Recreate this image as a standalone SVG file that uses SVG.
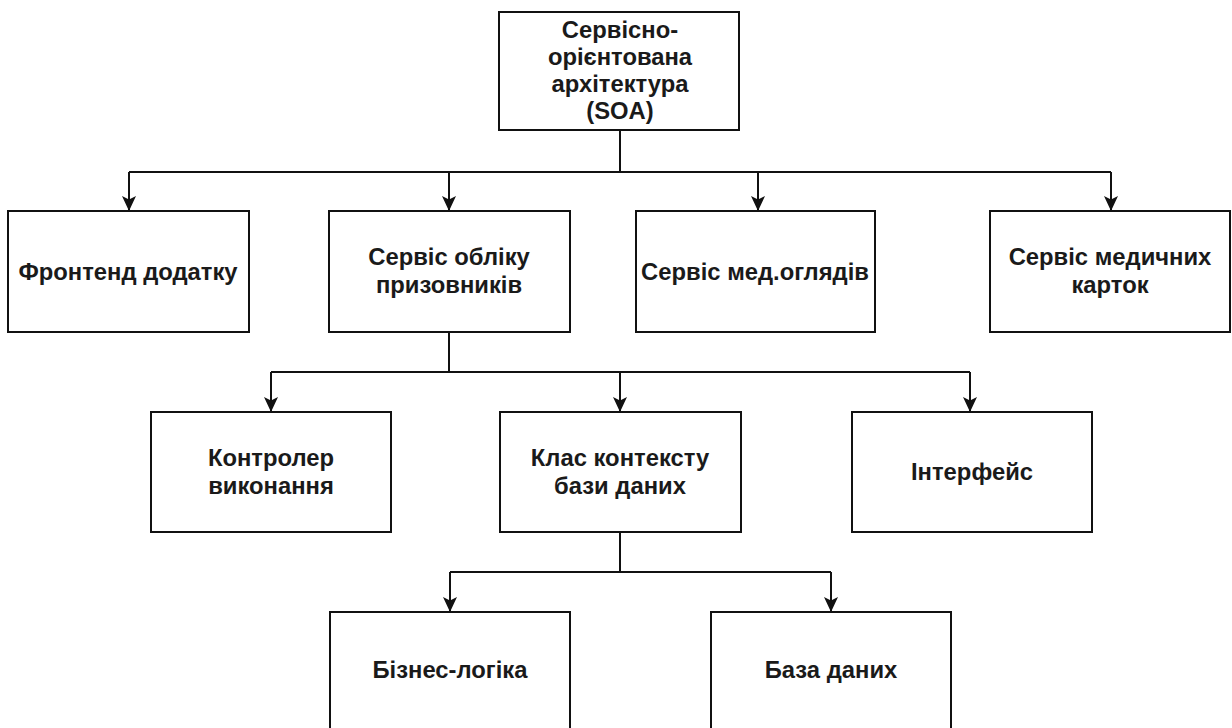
<svg xmlns="http://www.w3.org/2000/svg" width="1232" height="728" viewBox="0 0 1232 728">
  <style>
    .box { fill: #ffffff; stroke: #111111; stroke-width: 2; }
    .lbl { font-family: "Liberation Sans", Arial, sans-serif; font-size: 23.8px; font-weight: bold; fill: #1a1a1a; text-anchor: middle; }
    .wire { fill: none; stroke: #111111; stroke-width: 2; }
  </style>
  <defs>
    <marker id="arrow" markerUnits="userSpaceOnUse" markerWidth="16" markerHeight="16" viewBox="0 0 16 16" refX="15" refY="8" orient="auto">
      <path d="M0,1 L15,8 L0,15 L3.5,8 Z" fill="#111111"/>
    </marker>
  </defs>
  <rect width="1232" height="728" fill="#ffffff"/>

  <!-- connectors -->
  <g id="connectors">
    <path class="wire" d="M620,130 V172"/>
    <path class="wire" d="M129,172 H1111"/>
    <path class="wire" d="M129,172 V211" marker-end="url(#arrow)"/>
    <path class="wire" d="M449,172 V211" marker-end="url(#arrow)"/>
    <path class="wire" d="M758,172 V211" marker-end="url(#arrow)"/>
    <path class="wire" d="M1111,172 V211" marker-end="url(#arrow)"/>

    <path class="wire" d="M449,332 V372"/>
    <path class="wire" d="M271,372 H970"/>
    <path class="wire" d="M271,372 V412" marker-end="url(#arrow)"/>
    <path class="wire" d="M620,372 V412" marker-end="url(#arrow)"/>
    <path class="wire" d="M970,372 V412" marker-end="url(#arrow)"/>

    <path class="wire" d="M620,532 V572"/>
    <path class="wire" d="M450,572 H831"/>
    <path class="wire" d="M450,572 V612" marker-end="url(#arrow)"/>
    <path class="wire" d="M831,572 V612" marker-end="url(#arrow)"/>
  </g>

  <!-- root -->
  <g id="soa">
    <rect class="box" x="499" y="12" width="240" height="118"/>
    <text class="lbl" x="620" y="38">Сервісно-</text>
    <text class="lbl" x="620" y="65">орієнтована</text>
    <text class="lbl" x="620" y="92">архітектура</text>
    <text class="lbl" x="620" y="119">(SOA)</text>
  </g>

  <!-- services -->
  <g id="frontend">
    <rect class="box" x="8" y="211" width="241" height="121"/>
    <text class="lbl" x="128" y="280">Фронтенд додатку</text>
  </g>
  <g id="conscripts">
    <rect class="box" x="329" y="211" width="241" height="121"/>
    <text class="lbl" x="449" y="265">Сервіс обліку</text>
    <text class="lbl" x="449" y="293">призовників</text>
  </g>
  <g id="checkups">
    <rect class="box" x="636" y="211" width="239" height="121"/>
    <text class="lbl" x="755" y="280">Сервіс мед.оглядів</text>
  </g>
  <g id="records">
    <rect class="box" x="990" y="211" width="240" height="121"/>
    <text class="lbl" x="1110" y="265">Сервіс медичних</text>
    <text class="lbl" x="1110" y="293">карток</text>
  </g>

  <!-- service internals -->
  <g id="controller">
    <rect class="box" x="151" y="412" width="240" height="120"/>
    <text class="lbl" x="271" y="466">Контролер</text>
    <text class="lbl" x="271" y="494">виконання</text>
  </g>
  <g id="dbcontext">
    <rect class="box" x="500" y="412" width="241" height="120"/>
    <text class="lbl" x="620" y="466">Клас контексту</text>
    <text class="lbl" x="620" y="494">бази даних</text>
  </g>
  <g id="interface">
    <rect class="box" x="852" y="412" width="240" height="120"/>
    <text class="lbl" x="972" y="480">Інтерфейс</text>
  </g>

  <!-- data layer -->
  <g id="logic">
    <rect class="box" x="330" y="612" width="240" height="122"/>
    <text class="lbl" x="450" y="678">Бізнес-логіка</text>
  </g>
  <g id="database">
    <rect class="box" x="711" y="612" width="240" height="122"/>
    <text class="lbl" x="831" y="678">База даних</text>
  </g>
</svg>
